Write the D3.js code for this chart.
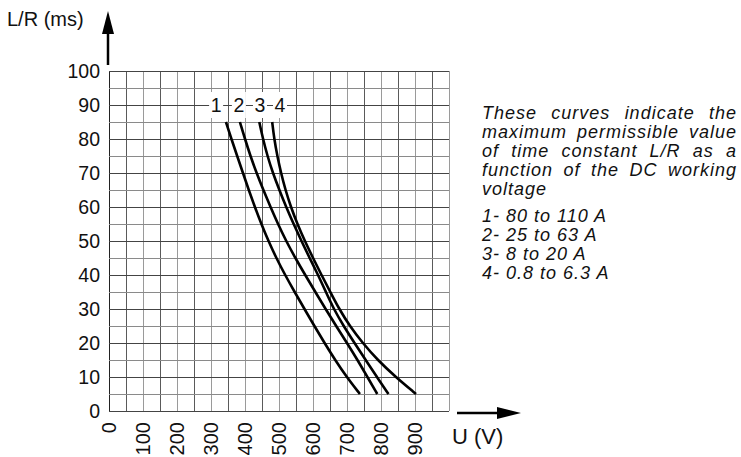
<!DOCTYPE html>
<meta charset="utf-8">
<style>
	body {
		margin: 0;
		background: #fff;
	}

	svg text {
		font-family: "Liberation Sans", Arial, sans-serif;
		fill: #111;
	}
</style>
<script src="https://cdn.jsdelivr.net/npm/d3@7"></script>

<body>
	<div id="chart"></div>

	<script>
		// values
		const lrLevels = [85, 80, 75, 70, 65, 60, 55, 50, 45, 40, 35, 30, 25, 20, 15, 10, 5];
		const curve1 = [344, 360, 377, 394, 411, 429, 448, 469, 492, 518, 546, 575, 604, 634, 665, 699, 738];
		const curve2 = [385, 400, 416, 434, 454, 475, 497, 521, 548, 577, 607, 637, 668, 700, 731, 760, 789];
		const curve3 = [442, 453, 466, 482, 501, 521, 543, 566, 590, 615, 638, 661, 690, 722, 755, 788, 822];
		const curve4 = [480, 486, 495, 506, 519, 535, 554, 576, 600, 625, 651, 677, 708, 746, 790, 843, 903];
		const curveNames = ["1", "2", "3", "4"];
		const curveLabelU = [315, 382, 444, 503];
		const curveLabelLR = 90;

		const xTicks = [0, 100, 200, 300, 400, 500, 600, 700, 800, 900];
		const yTicks = [0, 10, 20, 30, 40, 50, 60, 70, 80, 90, 100];

		const noteLines = [
			"These curves indicate the",
			"maximum permissible value",
			"of time constant L/R as a",
			"function of the DC working",
			"voltage"
		];
		const legendLines = ["1- 80 to 110 A", "2- 25 to 63 A", "3- 8 to 20 A", "4- 0.8 to 6.3 A"];

		let width = 741, height = 457;

		let svg = d3.select("#chart")
			.append("svg")
			.attr("width", width)
			.attr("height", height);

		let x = d3.scaleLinear().domain([0, 1000]).range([109, 449]);
		let y = d3.scaleLinear().domain([0, 100]).range([411, 71]);

		// grid: every 50 V and every 5 ms
		let grid = svg.append("g").attr("shape-rendering", "crispEdges");

		grid.selectAll("line.v")
			.data(d3.range(0, 1001, 50))
			.join("line")
			.attr("class", "v")
			.attr("x1", d => x(d)).attr("x2", d => x(d))
			.attr("y1", y(0)).attr("y2", y(100))
			.attr("stroke", d => d === 0 ? "#222" : (d % 100 === 0 ? "#9a9a9a" : "#5a5a5a"))
			.attr("stroke-width", 1);

		grid.selectAll("line.h")
			.data(d3.range(0, 101, 5))
			.join("line")
			.attr("class", "h")
			.attr("y1", d => y(d)).attr("y2", d => y(d))
			.attr("x1", x(0)).attr("x2", x(1000))
			.attr("stroke", d => d % 10 === 0 ? "#444" : "#8a8a8a")
			.attr("stroke-width", 1);

		// y tick labels
		svg.append("g")
			.selectAll("text")
			.data(yTicks)
			.join("text")
			.attr("x", 100)
			.attr("y", d => y(d))
			.attr("dy", "0.36em")
			.attr("text-anchor", "end")
			.style("font-size", "19.5px")
			.text(d => d);

		// x tick labels, rotated
		svg.append("g")
			.selectAll("text")
			.data(xTicks)
			.join("text")
			.attr("transform", d => `translate(${x(d)},422) rotate(-90)`)
			.attr("dy", "0.36em")
			.attr("text-anchor", "end")
			.style("font-size", "20px")
			.text(d => d);

		// curve number labels on the 90 line
		let lab = svg.append("g");
		curveNames.forEach((n, i) => {
			lab.append("rect")
				.attr("x", x(curveLabelU[i]) - 7)
				.attr("y", y(curveLabelLR) - 13)
				.attr("width", 14)
				.attr("height", 26)
				.attr("fill", "#fff");
			lab.append("text")
				.attr("x", x(curveLabelU[i]))
				.attr("y", y(curveLabelLR))
				.attr("dy", "0.36em")
				.attr("text-anchor", "middle")
				.style("font-size", "19.5px")
				.text(n);
		});

		// curves
		let line = d3.line()
			.x(d => x(d[0]))
			.y(d => y(d[1]))
			.curve(d3.curveBasis);

		[curve1, curve2, curve3, curve4].forEach(c => {
			svg.append("path")
				.datum(c.map((u, i) => [u, lrLevels[i]]))
				.attr("d", line)
				.attr("fill", "none")
				.attr("stroke", "#000")
				.attr("stroke-width", 2.6);
		});

		// axis arrows
		svg.append("line")
			.attr("x1", 108).attr("x2", 108)
			.attr("y1", 65).attr("y2", 30)
			.attr("stroke", "#000").attr("stroke-width", 2.5);
		svg.append("path")
			.attr("d", "M108,11 L102,34 L114,34 Z")
			.attr("fill", "#000");

		svg.append("line")
			.attr("x1", 457).attr("x2", 500)
			.attr("y1", 413).attr("y2", 413)
			.attr("stroke", "#000").attr("stroke-width", 2.5);
		svg.append("path")
			.attr("d", "M521,413 L497,407 L497,419 Z")
			.attr("fill", "#000");

		svg.append("text")
			.attr("x", 7).attr("y", 26)
			.style("font-size", "20px")
			.text("L/R (ms)");

		svg.append("text")
			.attr("x", 452).attr("y", 444)
			.style("font-size", "22px")
			.text("U (V)");

		// explanatory note, italic; first four lines justified
		function noteText(sel) {
			return sel.append("text")
				.style("font-family", "'Liberation Sans', Arial, sans-serif")
				.style("font-style", "italic")
				.style("font-size", "18px")
				.style("letter-spacing", "1px");
		}

		let noteLeft = 482, noteRight = 737;
		let note = svg.append("g");
		noteLines.forEach((t, i) => {
			let yy = 119 + i * 19;
			if (i === noteLines.length - 1) {
				noteText(note).attr("x", noteLeft).attr("y", yy).text(t);
				return;
			}
			let words = t.split(" ");
			let nodes = words.map(w => noteText(note).attr("y", yy).text(w));
			let widths = nodes.map(n => n.node().getComputedTextLength());
			let gap = (noteRight - noteLeft - d3.sum(widths)) / (words.length - 1);
			let cx = noteLeft;
			nodes.forEach((n, k) => {
				n.attr("x", cx);
				cx += widths[k] + gap;
			});
		});

		legendLines.forEach((t, i) => {
			noteText(note).attr("x", noteLeft).attr("y", 222 + i * 19).text(t);
		});
	</script>
</body>
